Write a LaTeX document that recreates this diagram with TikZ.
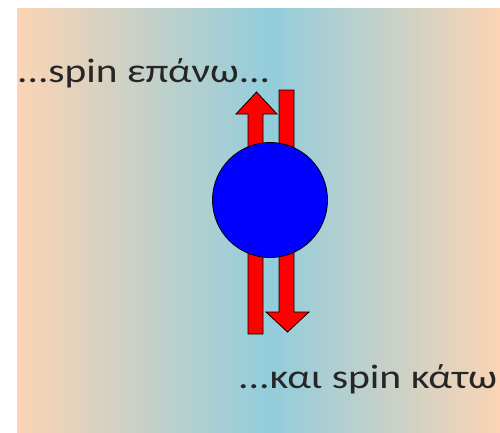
\documentclass[tikz,border=0pt]{standalone}
\usepackage{fontspec}
\setmainfont{Carlito}
\usepackage{graphicx}
\definecolor{peach}{HTML}{FBD4B4}
\definecolor{aqua}{HTML}{92CDDC}
\definecolor{spinred}{HTML}{FF0000}
\definecolor{ballblue}{HTML}{0000FF}
\pgfdeclarehorizontalshading{bgshade}{100bp}{color(0bp)=(peach); color(25bp)=(peach); color(51.2bp)=(aqua); color(75bp)=(peach); color(100bp)=(peach)}
\tikzset{
  arrowshape/.style={fill=spinred, draw=black, line width=0.8pt, line join=miter},
  ball/.style={circle, fill=ballblue, draw=black, line width=0.8pt, minimum size=115pt, inner sep=0pt},
  label/.style={inner sep=0pt, font=\fontsize{34}{37}\selectfont, text=black!85}
}
\begin{document}
\begin{tikzpicture}[x=1pt,y=-1pt]
\useasboundingbox (0,0) rectangle (500,432);
\fill[white] (0,0) rectangle (500,432);
\shade[shading=bgshade] (17,8) rectangle (500,432);
% up arrow (left)
\draw[arrowshape] (248,334) -- (248,114) -- (236,114) -- (256.5,92) -- (277,114) -- (263,114) -- (263,334) -- cycle;
% down arrow (right)
\draw[arrowshape] (279,90) -- (294,90) -- (294,312) -- (309,312) -- (287.5,332) -- (266,312) -- (279,312) -- cycle;
\node[ball] (b) at (270,200) {};
\node[label, anchor=base west] (t1) at (17,82) {\resizebox{253pt}{\height}{...spin επάνω...}};
\node[label, anchor=base west] (t2) at (238,388) {\resizebox{259pt}{\height}{...και spin κάτω}};
\end{tikzpicture}
\end{document}
